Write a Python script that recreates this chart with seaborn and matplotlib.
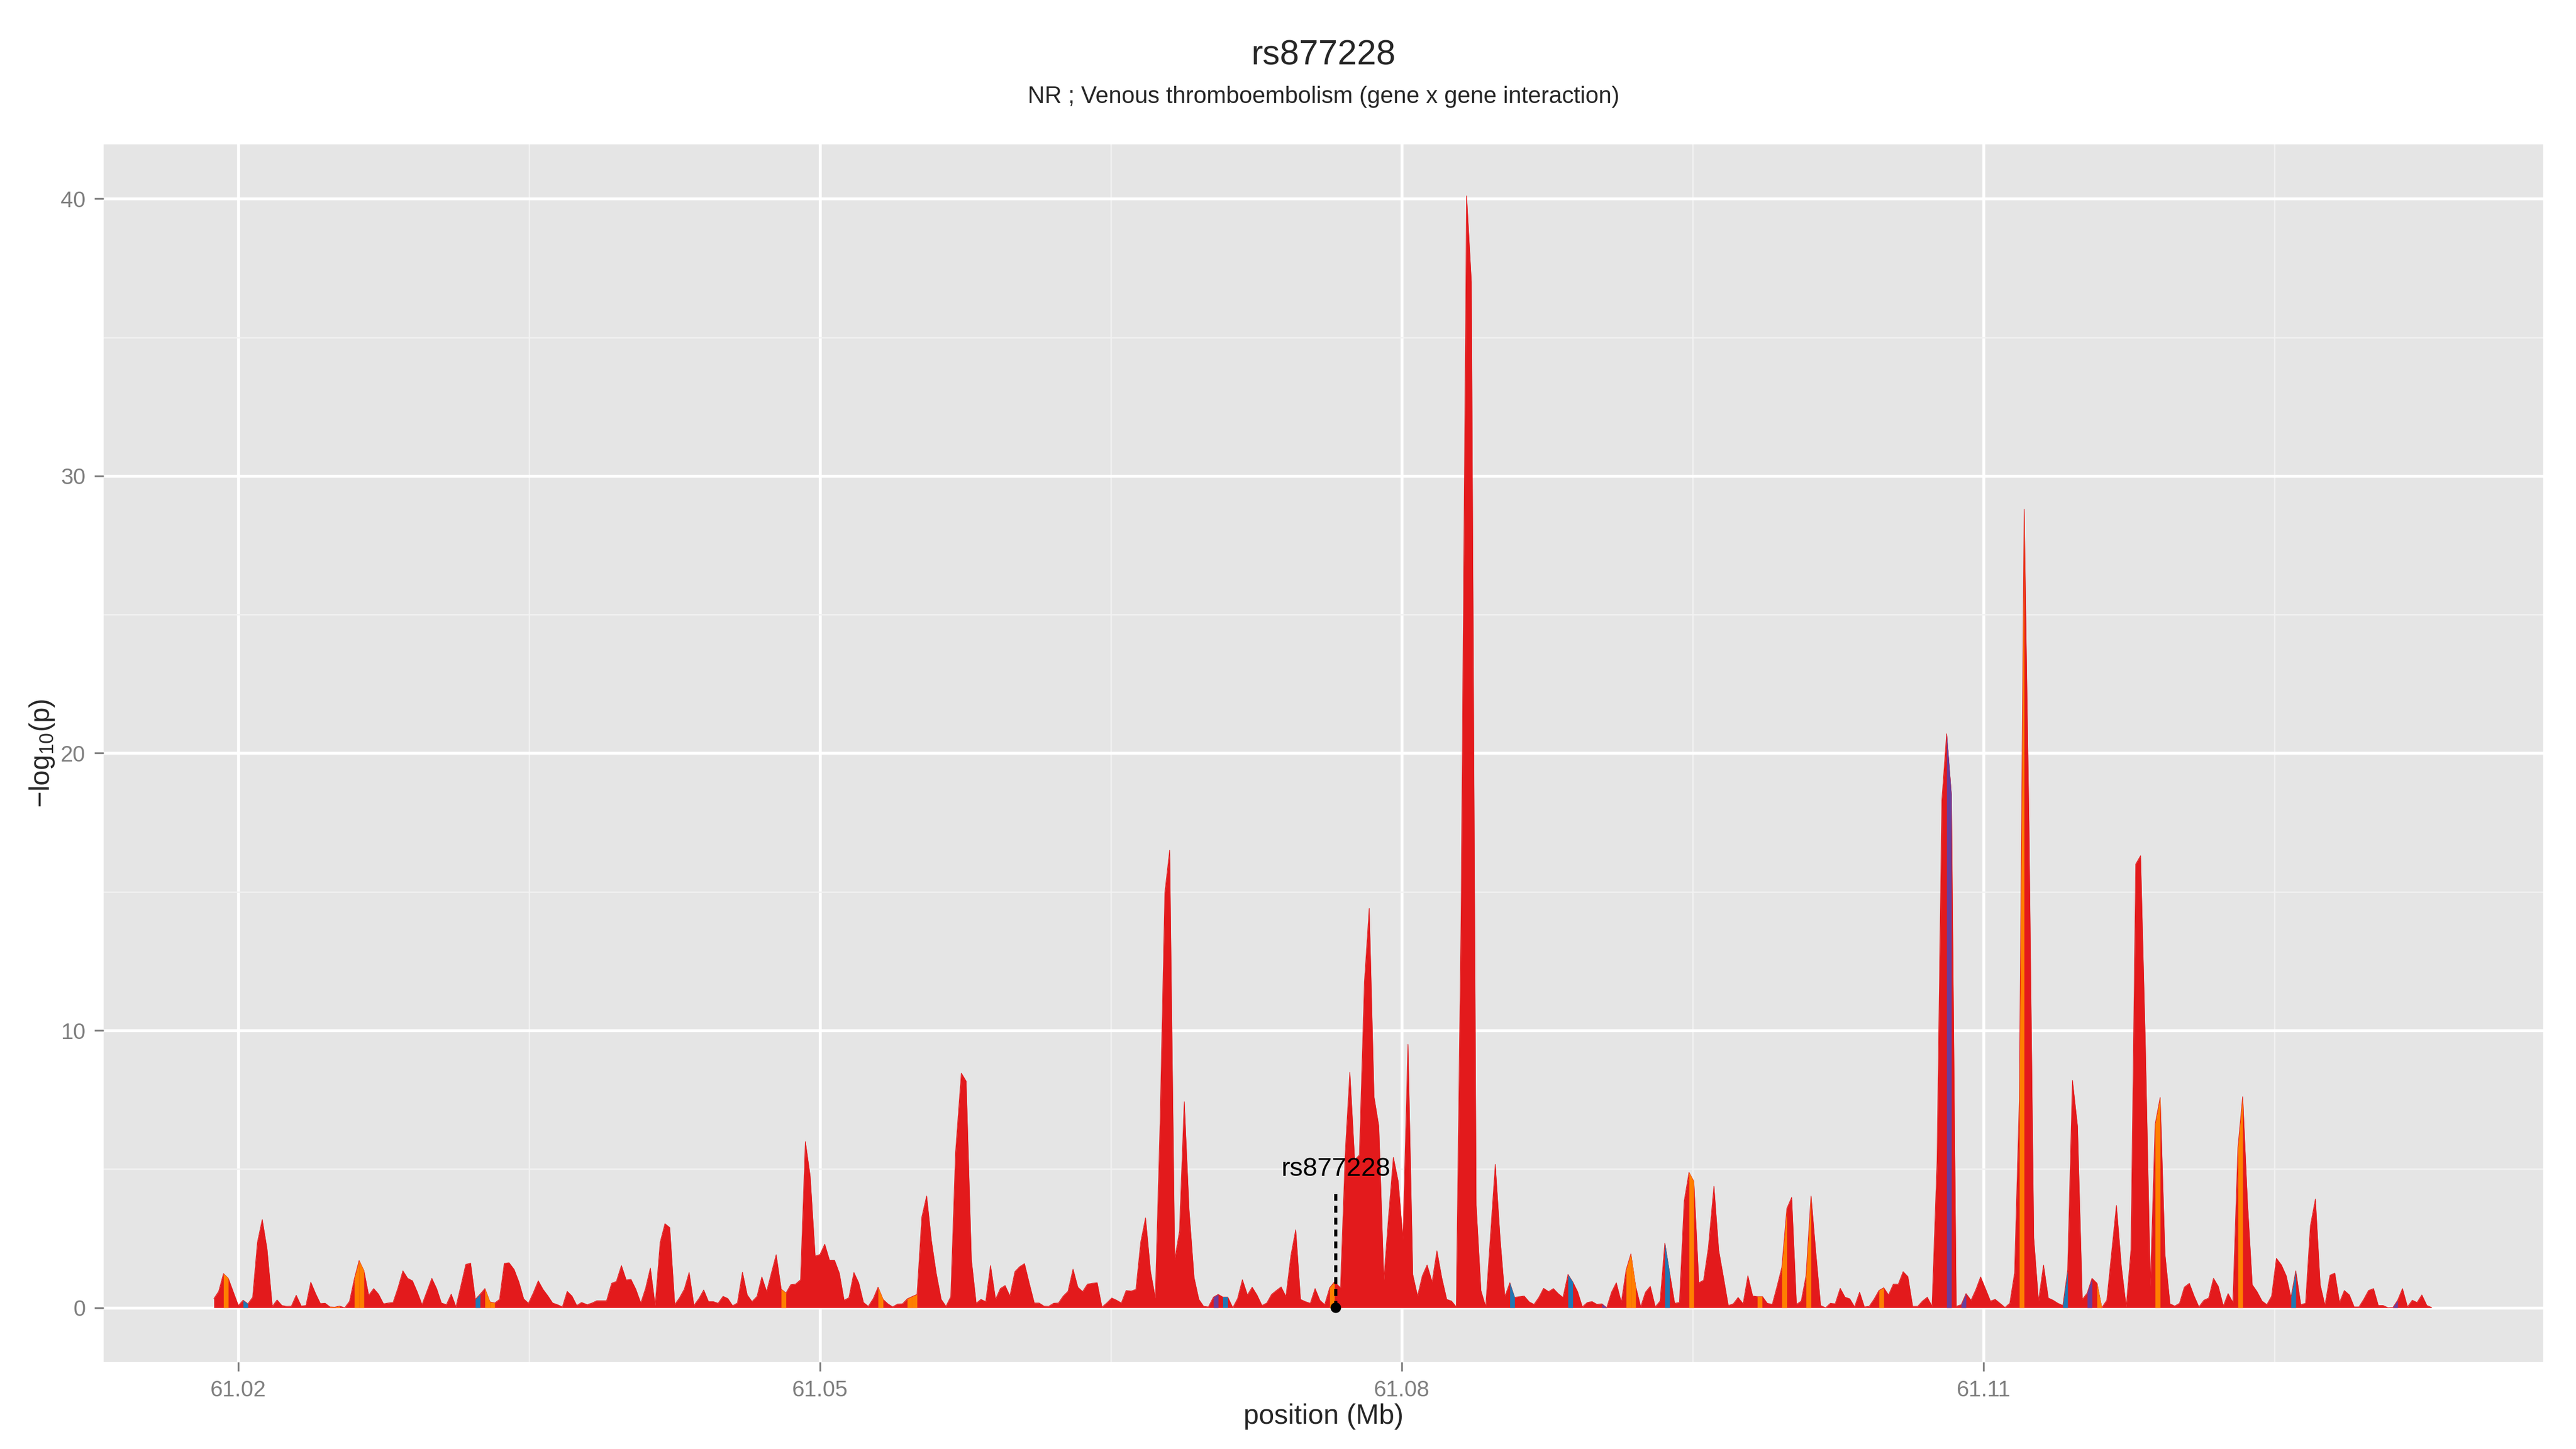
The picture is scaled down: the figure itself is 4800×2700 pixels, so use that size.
import numpy as np
import pandas as pd
import matplotlib
matplotlib.use("Agg")
import matplotlib.pyplot as plt
import seaborn as sns

# SNP positions (bp) and -log10(p)
pos_bp = [
    61018742, 61018989, 61019235, 61019482, 61020000, 61020247, 61020494, 61020740, 61020987, 61021234,
    61021480, 61021752, 61021998, 61022245, 61022492, 61022739, 61022985, 61023244, 61023491, 61023738,
    61023984, 61024231, 61024478, 61024724, 61024971, 61025218, 61025489, 61025736, 61025983, 61026229,
    61026476, 61026723, 61026982, 61027229, 61027488, 61027734, 61027981, 61028228, 61028487, 61028733,
    61028980, 61029227, 61029474, 61029733, 61029979, 61030226, 61030473, 61030732, 61030978, 61031225,
    61031472, 61031731, 61031977, 61032224, 61032471, 61032717, 61032976, 61033223, 61033470, 61033717,
    61033963, 61034222, 61034469, 61034716, 61034962, 61035209, 61035468, 61035715, 61035961, 61036208,
    61036455, 61036714, 61036960, 61037207, 61037454, 61037700,
    61037993, 61038240, 61038487, 61038733, 61038992, 61039252, 61039498, 61039757, 61040004, 61040251,
    61040497, 61040756, 61041003, 61041250, 61041496, 61041756, 61042002, 61042249, 61042508, 61042755,
    61043001, 61043248, 61043495, 61043754, 61044000, 61044247, 61044494, 61044741, 61045000, 61045246,
    61045493, 61045740, 61045999, 61046245, 61046492, 61046751, 61046998, 61047245, 61047491, 61047738,
    61047997, 61048244, 61048490, 61048737, 61048996, 61049243, 61049490, 61049749, 61049995, 61050242,
    61050489, 61050748, 61050994, 61051241, 61051488, 61051747, 61051994, 61052240, 61052487, 61052746,
    61052993, 61053252, 61053498, 61053745, 61053992, 61054251, 61054498, 61054744, 61055003, 61055250,
    61055497, 61055743, 61055990, 61056249, 61056496, 61056743, 61056989,
    61057287, 61057534, 61057805, 61058052, 61058298, 61058545, 61058792, 61059051, 61059298, 61059544,
    61059791, 61060050, 61060297, 61060543, 61060790, 61061049, 61061296, 61061543, 61061789, 61062048,
    61062295, 61062542, 61062788, 61063047, 61063294, 61063541, 61063788, 61064034, 61064293, 61064540,
    61064787, 61065046, 61065292, 61065539, 61065786, 61066045, 61066292, 61066538, 61066785, 61067044,
    61067291, 61067537, 61067784, 61068031, 61068290, 61068537, 61068783, 61069030, 61069289, 61069536,
    61069782, 61070029, 61070288, 61070535, 61070781, 61071028, 61071287, 61071534, 61071781, 61072040,
    61072286, 61072533, 61072792, 61073039, 61073286, 61073532, 61073779, 61074026, 61074285, 61074531,
    61074778, 61075025, 61075284, 61075530, 61075777, 61076024, 61076283, 61076530,
    61076842, 61077089, 61077323, 61077570, 61077816, 61078076, 61078322, 61078569, 61078816, 61079075,
    61079321, 61079568, 61079815, 61080061, 61080321, 61080567, 61080814, 61081061, 61081307, 61081566,
    61081813, 61082060, 61082319, 61082565, 61082812, 61083059, 61083343, 61083589, 61083836, 61084083,
    61084329, 61084576, 61084823, 61085069, 61085316, 61085575, 61085822, 61086069, 61086315, 61086574,
    61086821, 61087068, 61087314, 61087573, 61087820, 61088067, 61088314, 61088573, 61088819, 61089066,
    61089313, 61089572, 61089818, 61090065, 61090324, 61090571, 61090818, 61091064, 61091323, 61091570,
    61091817, 61092063, 61092323, 61092569, 61092816, 61093075, 61093322, 61093568, 61093815, 61094074,
    61094321, 61094567, 61094814, 61095061, 61095320, 61095566, 61095813,
    61096099, 61096345, 61096592, 61096839, 61097098, 61097345, 61097604, 61097850, 61098097, 61098356,
    61098603, 61098849, 61099108, 61099355, 61099602, 61099861, 61100108, 61100354, 61100601, 61100848,
    61101107, 61101353, 61101600, 61101859, 61102106, 61102353, 61102612, 61102858, 61103105, 61103352,
    61103611, 61103857, 61104104, 61104351, 61104610, 61104857, 61105103, 61105350, 61105609, 61105856,
    61106102, 61106349, 61106608, 61106855, 61107102, 61107348, 61107607, 61107854, 61108101, 61108347,
    61108594, 61108853, 61109100, 61109359, 61109606, 61109852, 61110111, 61110358, 61110605, 61110851,
    61111110, 61111357, 61111604, 61111850, 61112097, 61112344, 61112591, 61112837, 61113096, 61113343,
    61113590, 61113836, 61114095, 61114342, 61114589, 61114848, 61115095,
    61115350, 61115597, 61115856, 61116102, 61116361, 61116608, 61116855, 61117114, 61117361, 61117607,
    61117854, 61118101, 61118347, 61118606, 61118853, 61119112, 61119359, 61119618, 61119865, 61120111,
    61120358, 61120617, 61120864, 61121110, 61121369, 61121616, 61121863, 61122110, 61122369, 61122615,
    61122862, 61123121, 61123368, 61123614, 61123861, 61124108, 61124367, 61124614, 61124860, 61125107,
    61125366, 61125613, 61125859, 61126106, 61126365, 61126612, 61126859, 61127118, 61127364, 61127611,
    61127870, 61128117, 61128363, 61128610, 61128869, 61129116, 61129363, 61129609, 61129856, 61130115,
    61130362, 61130608, 61130867, 61131114, 61131361, 61131608, 61131867, 61132113, 61132360, 61132607,
    61132866, 61133112,
]

neglog_p = [
    0.33, 0.59, 1.23, 1.06, 0.08, 0.27, 0.14, 0.38, 2.36, 3.18,
    2.12, 0.05, 0.28, 0.08, 0.05, 0.06, 0.45, 0.06, 0.08, 0.92,
    0.51, 0.15, 0.16, 0.03, 0.02, 0.06, 0.0, 0.23, 1.04, 1.70,
    1.34, 0.45, 0.69, 0.49, 0.14, 0.17, 0.19, 0.70, 1.33, 1.06,
    0.97, 0.57, 0.11, 0.60, 1.06, 0.69, 0.17, 0.11, 0.49, 0.03,
    0.77, 1.56, 1.61, 0.30, 0.49, 0.69, 0.21, 0.17, 0.30, 1.60,
    1.62, 1.38, 0.93, 0.32, 0.16, 0.53, 0.97, 0.66, 0.43, 0.17,
    0.11, 0.03, 0.59, 0.42, 0.08, 0.19,
    0.11, 0.17, 0.25, 0.25, 0.25, 0.88, 0.95, 1.52, 1.00, 1.02,
    0.67, 0.17, 0.70, 1.43, 0.08, 2.36, 3.03, 2.89, 0.11, 0.36,
    0.67, 1.27, 0.08, 0.33, 0.64, 0.22, 0.22, 0.16, 0.41, 0.33,
    0.07, 0.17, 1.28, 0.46, 0.22, 0.41, 1.11, 0.58, 1.25, 1.91,
    0.67, 0.53, 0.83, 0.85, 1.01, 5.99, 4.75, 1.86, 1.92, 2.29,
    1.71, 1.71, 1.25, 0.27, 0.36, 1.27, 0.90, 0.19, 0.05, 0.33,
    0.74, 0.30, 0.14, 0.03, 0.13, 0.14, 0.32, 0.40, 0.48, 3.27,
    4.03, 2.42, 1.25, 0.30, 0.05, 0.40, 5.60,
    8.46, 8.17, 1.73, 0.16, 0.30, 0.22, 1.52, 0.30, 0.69, 0.80,
    0.42, 1.30, 1.48, 1.59, 0.88, 0.17, 0.17, 0.06, 0.05, 0.16,
    0.17, 0.42, 0.59, 1.39, 0.74, 0.58, 0.85, 0.88, 0.90, 0.02,
    0.17, 0.35, 0.27, 0.17, 0.62, 0.60, 0.66, 2.36, 3.24, 1.30,
    0.35, 6.66, 14.98, 16.50, 1.73, 2.76, 7.43, 3.53, 1.09, 0.30,
    0.05, 0.03, 0.38, 0.48, 0.38, 0.38, 0.0, 0.33, 1.01, 0.46,
    0.74, 0.46, 0.08, 0.17, 0.48, 0.62, 0.75, 0.40, 1.89, 2.81,
    0.30, 0.22, 0.16, 0.69, 0.27, 0.11, 0.72, 0.93,
    0.72, 5.63, 8.49, 5.33, 5.51, 11.75, 14.40, 7.61, 6.55, 1.01,
    3.30, 5.42, 4.56, 2.47, 9.50, 1.20, 0.42, 1.15, 1.54, 0.93,
    2.05, 1.09, 0.30, 0.24, 0.03, 14.0, 40.1, 37.0, 3.70, 0.62,
    0.03, 2.60, 5.17, 2.52, 0.40, 0.90, 0.37, 0.40, 0.42, 0.21,
    0.12, 0.37, 0.70, 0.58, 0.69, 0.51, 0.37, 1.20, 0.93, 0.58,
    0.03, 0.19, 0.22, 0.12, 0.14, 0.0, 0.56, 0.90, 0.19, 1.36,
    1.94, 0.77, 0.03, 0.56, 0.77, 0.03, 0.24, 2.33, 1.25, 0.16,
    0.19, 3.85, 4.88, 4.56, 0.90, 0.99, 2.17,
    4.38, 2.07, 1.09, 0.08, 0.14, 0.37, 0.14, 1.15, 0.42, 0.40,
    0.40, 0.16, 0.12, 0.77, 1.46, 3.58, 3.98, 0.12, 0.24, 1.15,
    4.03, 1.99, 0.08, 0.0, 0.16, 0.14, 0.70, 0.38, 0.32, 0.03,
    0.56, 0.03, 0.05, 0.30, 0.62, 0.72, 0.46, 0.85, 0.85, 1.30,
    1.12, 0.05, 0.05, 0.24, 0.38, 0.05, 5.30, 18.3, 20.7, 18.5,
    0.05, 0.11, 0.51, 0.27, 0.65, 1.11, 0.67, 0.24, 0.30, 0.16,
    0.01, 0.16, 1.25, 7.50, 28.8, 17.5, 2.52, 0.24, 1.54, 0.35,
    0.27, 0.16, 0.08, 1.36, 8.20, 6.55, 0.30,
    0.53, 1.06, 0.88, 0.0, 0.27, 1.99, 3.69, 1.46, 0.03, 2.10,
    16.0, 16.3, 9.50, 0.77, 6.61, 7.58, 1.94, 0.14, 0.06, 0.16,
    0.74, 0.88, 0.42, 0.03, 0.27, 0.35, 1.06, 0.77, 0.06, 0.51,
    0.19, 5.76, 7.61, 3.80, 0.83, 0.58, 0.24, 0.11, 0.42, 1.78,
    1.54, 1.15, 0.37, 1.33, 0.11, 0.16, 2.95, 3.92, 0.83, 0.08,
    1.17, 1.25, 0.19, 0.62, 0.46, 0.03, 0.03, 0.30, 0.62, 0.69,
    0.08, 0.08, 0.0, 0.01, 0.27, 0.69, 0.03, 0.27, 0.19, 0.46,
    0.08, 0.01,
]

# segments (starting at these SNPs) drawn in a colour other than red
orange_starts = [61019235, 61024724, 61024971, 61025983, 61026229, 61032717, 61032976,
                 61047997, 61052993, 61054498, 61054744, 61076283, 61091570, 61091817,
                 61094814, 61098356, 61099602, 61100848, 61104610, 61111850, 61115856,
                 61118853, 61123121]
blue_starts = [61020247, 61032224, 61070781, 61085575, 61088573, 61093568, 61114095, 61125859]
purple_starts = [61070288, 61090324, 61108101, 61108853, 61115350, 61131114]

lead_snp = "rs877228"
lead_pos_bp = 61076600
lead_line_top = 4.1
lead_label_y = 5.0

title = "rs877228"
subtitle = "NR ; Venous thromboembolism (gene x gene interaction)"

palette = {"red": "#E31A1C", "orange": "#FF7F00", "blue": "#1F78B4", "purple": "#6A3D9A"}

df = pd.DataFrame({"pos": np.array(pos_bp) / 1e6, "logp": neglog_p})
df["seg"] = "red"
df.loc[df["pos"].isin(np.array(orange_starts) / 1e6), "seg"] = "orange"
df.loc[df["pos"].isin(np.array(blue_starts) / 1e6), "seg"] = "blue"
df.loc[df["pos"].isin(np.array(purple_starts) / 1e6), "seg"] = "purple"

sns.set_theme(style="darkgrid", rc={
    "axes.facecolor": "#E5E5E5",
    "grid.color": "white",
    "axes.edgecolor": "#E5E5E5",
})
plt.rcParams["font.family"] = ["Liberation Sans", "DejaVu Sans"]

fig = plt.figure(figsize=(16, 9), dpi=300)
ax = fig.add_axes([0.0402, 0.06, 0.9471, 0.8404])

x = df["pos"].to_numpy()
y = df["logp"].to_numpy()
ax.fill_between(x, 0, y, color=palette["red"], linewidth=0, zorder=2)
for i in range(len(df) - 1):
    c = df["seg"].iloc[i]
    if c != "red":
        ax.fill_between(x[i:i + 2], 0, y[i:i + 2], color=palette[c], linewidth=0, zorder=3)
sns.lineplot(x=x, y=y, ax=ax, color=palette["red"], linewidth=0.3, zorder=2.5)

# lead SNP marker
lead_x = lead_pos_bp / 1e6
ax.plot([lead_x, lead_x], [0, lead_line_top], color="black", linestyle=(0, (2.2, 1.6)),
        linewidth=1.4, zorder=5)
sns.scatterplot(x=[lead_x], y=[0], ax=ax, color="black", s=22, zorder=6, edgecolor="none")
ax.text(lead_x, lead_label_y, lead_snp, ha="center", va="center", fontsize=11.7, color="black", zorder=6)

ax.set_xlim(61.01305, 61.13887)
ax.set_ylim(-1.96, 41.96)
ax.set_xticks([61.02, 61.05, 61.08, 61.11])
ax.set_xticklabels(["61.02", "61.05", "61.08", "61.11"])
ax.set_xticks([61.035, 61.065, 61.095, 61.125], minor=True)
ax.set_yticks([0, 10, 20, 30, 40])
ax.set_yticks([5, 15, 25, 35], minor=True)
ax.grid(which="major", color="white", linewidth=1.3)
ax.grid(which="minor", color="#F2F2F2", linewidth=0.6)
ax.set_axisbelow(True)
for s in ax.spines.values():
    s.set_visible(False)
ax.tick_params(axis="both", which="major", length=4, width=0.8, color="#7F7F7F",
               labelcolor="#7F7F7F", labelsize=10, pad=4, bottom=True, left=True)
ax.tick_params(axis="both", which="minor", length=0)

ax.set_xlabel("position (Mb)", fontsize=12.4, labelpad=1)
ax.set_ylabel(r"$\mathregular{-log_{10}(p)}$", fontsize=12.4, labelpad=2)

fig.text(0.5138, 0.9615, title, ha="center", va="center", fontsize=15.5)
fig.text(0.5138, 0.933, subtitle, ha="center", va="center", fontsize=10.5)

fig.savefig("out.png", dpi=300)
